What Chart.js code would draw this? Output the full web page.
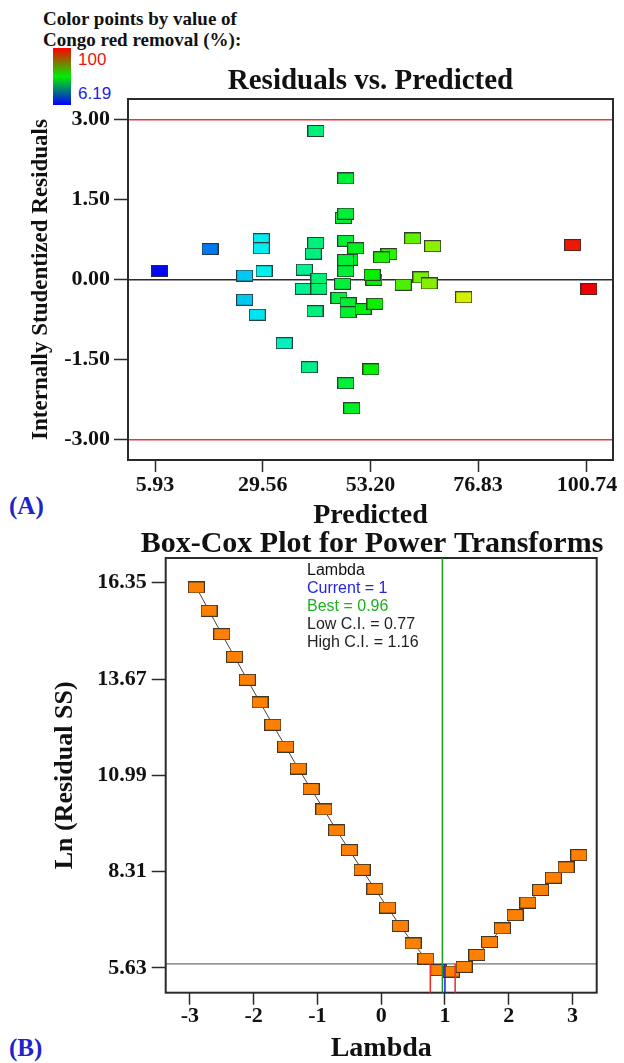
<!DOCTYPE html>
<html><head><meta charset="utf-8">
<script src="https://cdn.jsdelivr.net/npm/chart.js@4"></script>
<style>
html,body{margin:0;padding:0;background:#fff;width:624px;height:1063px;overflow:hidden;position:relative;}
canvas{position:absolute;left:0;top:0;}
.t{position:absolute;white-space:nowrap;line-height:1;}
.hd{font:bold 19px "Liberation Serif";color:#111;left:43px;}
.cb{position:absolute;left:53px;top:48px;width:18px;height:57px;background:linear-gradient(to bottom,#ff0000,#00ee00,#0000ff);}
.pl{font:bold 25px "Liberation Serif";color:#2222cc;left:9px;}
</style></head><body>
<div class="t hd" style="top:8px;">Color points by value of</div>
<div class="t hd" style="top:29px;">Congo red removal (%):</div>
<div class="cb"></div>
<div class="t" style="left:78px;top:50px;font:17px 'Liberation Sans';color:#ee1111;">100</div>
<div class="t" style="left:78px;top:84px;font:17px 'Liberation Sans';color:#2222dd;">6.19</div>
<div class="t pl" style="top:492px;">(A)</div>
<div class="t pl" style="top:1034px;">(B)</div>
<canvas id="c1" width="624" height="1063"></canvas>
<canvas id="c2" width="624" height="1063"></canvas>
<script>
// ---------- Panel A: Residuals vs. Predicted ----------
const predicted = [6.96, 18.0, 25.6, 25.6, 29.26, 29.26, 29.85, 28.38, 34.3, 39.8, 47.8, 49.1, 53.33, 73.67, 101.17, 97.6,
  41.26, 47.78, 47.26, 47.78, 47.78, 49.97, 41.2, 40.67, 62.48, 66.87, 57.28, 55.68, 48.7, 47.78, 47.78, 53.99, 53.6,
  47.1, 60.4, 64.3, 66.1, 46.3, 48.3, 48.3, 51.6, 54.2, 41.05, 38.7, 41.9, 38.5, 41.9];
const residuals = [0.17, 0.575, 0.08, -0.375, 0.76, 0.59, 0.16, -0.656, -1.19, -1.64, -1.94, -2.41, -1.68, -0.33, -0.175, 0.65,
  2.79, 1.90, 1.16, 1.24, 0.73, 0.59, 0.69, 0.49, 0.775, 0.63, 0.48, 0.42, 0.375, 0.37, 0.16, 0.0, 0.094,
  -0.075, -0.094, 0.044, -0.069, -0.34, -0.44, -0.61, -0.55, -0.45, -0.59, 0.19, 0.02, -0.17, -0.17];
const xTicksA = [5.93, 29.56, 53.20, 76.83, 100.74];
const yTicksA = [-3.00, -1.50, 0.00, 1.50, 3.00];
const residualLimits = [-3, 3];
const removalRange = [6.19, 100];

// ---------- Panel B: Box-Cox ----------
const lambda = [-2.9, -2.7, -2.5, -2.3, -2.1, -1.9, -1.7, -1.5, -1.3, -1.1, -0.9, -0.7, -0.5, -0.3, -0.1,
  0.1, 0.3, 0.5, 0.7, 0.9, 1.1, 1.3, 1.5, 1.7, 1.9, 2.1, 2.3, 2.5, 2.7, 2.9, 3.1];
const lnRSS = [16.22, 15.57, 14.92, 14.29, 13.65, 13.02, 12.40, 11.79, 11.18, 10.61, 10.04, 9.46, 8.91, 8.36, 7.83,
  7.31, 6.80, 6.31, 5.89, 5.57, 5.53, 5.66, 5.99, 6.35, 6.73, 7.10, 7.45, 7.80, 8.14, 8.43, 8.77];
const xTicksB = [-3, -2, -1, 0, 1, 2, 3];
const yTicksB = [5.63, 8.31, 10.99, 13.67, 16.35];
const lambdaCurrent = 1, lambdaBest = 0.96, lambdaLowCI = 0.77, lambdaHighCI = 1.16;
const lnCIThreshold = 5.74;
const legendLines = [
  {text: 'Lambda', color: '#111'},
  {text: 'Current = 1', color: '#2424e6'},
  {text: 'Best = 0.96', color: '#1fb01f'},
  {text: 'Low C.I. = 0.77', color: '#222'},
  {text: 'High C.I. = 1.16', color: '#222'}
];

Chart.defaults.animation = false;
Chart.defaults.devicePixelRatio = 1;

const serifBold = (size) => ({family: 'Liberation Serif', weight: 'bold', size: size, lineHeight: 1});

function rectImg(fill) {
  const c = document.createElement('canvas');
  c.width = 17; c.height = 12;
  const g = c.getContext('2d');
  g.fillStyle = fill; g.fillRect(0, 0, 17, 12);
  g.strokeStyle = 'rgba(45,45,45,0.9)'; g.lineWidth = 1;
  g.strokeRect(0.5, 0.5, 16, 11);
  return c;
}
function removalColor(v) {
  let t = (v - removalRange[0]) / (removalRange[1] - removalRange[0]);
  t = Math.max(0, Math.min(1, t));
  return 'hsl(' + (240 * (1 - t)).toFixed(0) + ',100%,47%)';
}
const imgsA = predicted.map(v => rectImg(removalColor(v)));
const orangeImg = rectImg('#ff8000');

function fixScale(size, isX) {
  return function (s) {
    if (isX) s.height = size; else s.width = size;
    s.paddingTop = 0; s.paddingBottom = 0; s.paddingLeft = 0; s.paddingRight = 0;
  };
}
function setTicks(arr) { return function (s) { s.ticks = arr.map(v => ({value: v})); }; }

function hline(ctx, area, y, color, w) {
  ctx.save(); ctx.strokeStyle = color; ctx.lineWidth = w;
  ctx.beginPath(); ctx.moveTo(area.left, y); ctx.lineTo(area.right, y); ctx.stroke(); ctx.restore();
}
function vline(ctx, x, y1, y2, color, w) {
  ctx.save(); ctx.strokeStyle = color; ctx.lineWidth = w;
  ctx.beginPath(); ctx.moveTo(x, y1); ctx.lineTo(x, y2); ctx.stroke(); ctx.restore();
}
function frame(ctx, a) {
  ctx.save(); ctx.strokeStyle = '#2a2a2a'; ctx.lineWidth = 2;
  ctx.strokeRect(a.left, a.top, a.right - a.left, a.bottom - a.top); ctx.restore();
}

// ---------- Chart A ----------
new Chart(document.getElementById('c1'), {
  type: 'scatter',
  data: {datasets: [{
    data: predicted.map((x, i) => ({x: x, y: residuals[i]})),
    pointStyle: (c) => imgsA[c.dataIndex],
    pointRadius: 8, showLine: false
  }]},
  options: {
    responsive: false,
    layout: {padding: {top: 99, right: 11, left: 0, bottom: 533}},
    plugins: {legend: {display: false}, tooltip: {enabled: false}},
    scales: {
      x: {
        type: 'linear', min: 0, max: 106.45,
        afterBuildTicks: setTicks(xTicksA), afterFit: fixScale(70, true),
        grid: {drawOnChartArea: false, drawTicks: true, tickLength: 12, tickColor: '#2a2a2a', tickWidth: 1.5},
        border: {display: false},
        ticks: {font: serifBold(22), color: '#111', padding: 2, maxRotation: 0, callback: v => v.toFixed(2)},
        title: {display: true, text: 'Predicted', font: serifBold(28), color: '#111', padding: {top: 0, bottom: 0}}
      },
      y: {
        type: 'linear', min: -3.38, max: 3.39,
        afterBuildTicks: setTicks(yTicksA), afterFit: fixScale(128, false),
        grid: {drawOnChartArea: false, drawTicks: true, tickLength: 14, tickColor: '#2a2a2a', tickWidth: 1.5},
        border: {display: false},
        ticks: {font: serifBold(22), color: '#111', padding: 4, callback: v => v.toFixed(2)},
        title: {display: true, text: 'Internally Studentized Residuals', font: serifBold(23), color: '#111', padding: {top: 30, bottom: 0}}
      }
    }
  },
  plugins: [{
    id: 'decorA',
    beforeDatasetsDraw(chart) {
      const {ctx, chartArea: a, scales: {y}} = chart;
      residualLimits.forEach(v => hline(ctx, a, y.getPixelForValue(v), '#e83a3a', 1.5));
      hline(ctx, a, y.getPixelForValue(0), '#2a2a2a', 1.5);
      frame(ctx, a);
    },
    afterDraw(chart) {
      const {ctx, chartArea: a} = chart;
      ctx.save();
      ctx.font = 'bold 29px "Liberation Serif"'; ctx.fillStyle = '#111';
      ctx.textAlign = 'center'; ctx.textBaseline = 'middle';
      ctx.fillText('Residuals vs. Predicted', (a.left + a.right) / 2, a.top - 17);
      ctx.restore();
    }
  }]
});

// ---------- Chart B ----------
new Chart(document.getElementById('c2'), {
  type: 'line',
  data: {datasets: [{
    data: lambda.map((x, i) => ({x: x, y: lnRSS[i]})),
    borderColor: '#444', borderWidth: 1, tension: 0,
    pointStyle: orangeImg, pointRadius: 8
  }]},
  options: {
    responsive: false,
    layout: {padding: {top: 558, right: 27.3, left: 0, bottom: 0}},
    plugins: {legend: {display: false}, tooltip: {enabled: false}},
    scales: {
      x: {
        type: 'linear', min: -3.38, max: 3.38,
        afterBuildTicks: setTicks(xTicksB), afterFit: fixScale(70.3, true),
        grid: {drawOnChartArea: false, drawTicks: true, tickLength: 12, tickColor: '#2a2a2a', tickWidth: 1.5},
        border: {display: false},
        ticks: {font: serifBold(22), color: '#111', padding: 1, maxRotation: 0, callback: v => String(v)},
        title: {display: true, text: 'Lambda', font: serifBold(28), color: '#111', padding: {top: 0, bottom: 0}}
      },
      y: {
        type: 'linear', min: 4.94, max: 17.04,
        afterBuildTicks: setTicks(yTicksB), afterFit: fixScale(165.7, false),
        grid: {drawOnChartArea: false, drawTicks: true, tickLength: 14, tickColor: '#2a2a2a', tickWidth: 1.5},
        border: {display: false},
        ticks: {font: serifBold(22), color: '#111', padding: 5, callback: v => v.toFixed(2)},
        title: {display: true, text: 'Ln (Residual SS)', font: serifBold(26), color: '#111', padding: {top: 52, bottom: 0}}
      }
    }
  },
  plugins: [{
    id: 'decorB',
    beforeDatasetsDraw(chart) {
      const {ctx, chartArea: a, scales: {y}} = chart;
      hline(ctx, a, y.getPixelForValue(lnCIThreshold), '#707070', 1.2);
      frame(ctx, a);
    },
    afterDatasetsDraw(chart) {
      const {ctx, chartArea: a, scales: {x, y}} = chart;
      const yt = y.getPixelForValue(lnCIThreshold);
      vline(ctx, x.getPixelForValue(lambdaBest), a.top, a.bottom, '#1a9a1a', 1.5);
      vline(ctx, x.getPixelForValue(lambdaCurrent), yt, a.bottom, '#1a1aee', 1.5);
      vline(ctx, x.getPixelForValue(lambdaLowCI), yt, a.bottom, '#ee2a2a', 1.5);
      vline(ctx, x.getPixelForValue(lambdaHighCI), yt, a.bottom, '#ee2a2a', 1.5);
      ctx.save();
      ctx.font = '16px "Liberation Sans"'; ctx.textBaseline = 'middle'; ctx.textAlign = 'left';
      legendLines.forEach((l, i) => { ctx.fillStyle = l.color; ctx.fillText(l.text, a.left + 141.3, a.top + 12.7 + 18 * i); });
      ctx.restore();
    },
    afterDraw(chart) {
      const {ctx, chartArea: a} = chart;
      ctx.save();
      ctx.font = 'bold 30px "Liberation Serif"'; ctx.fillStyle = '#111';
      ctx.textAlign = 'center'; ctx.textBaseline = 'middle';
      ctx.fillText('Box-Cox Plot for Power Transforms', 372, a.top - 14);
      ctx.restore();
    }
  }]
});
</script>
</body></html>
